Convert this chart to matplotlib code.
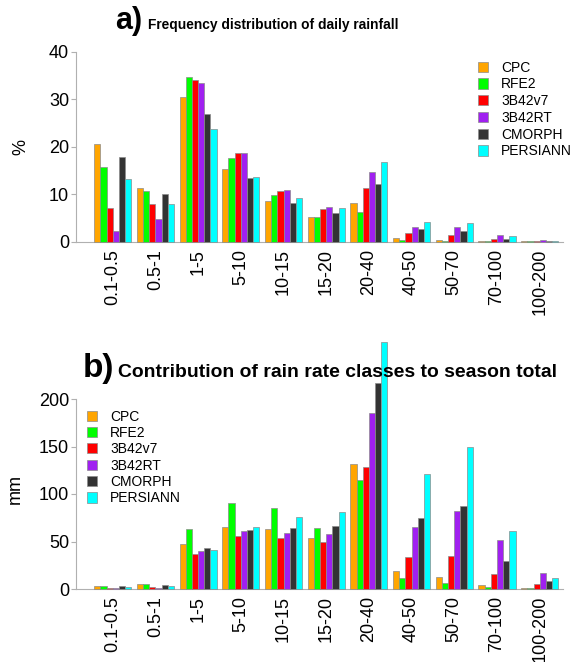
import matplotlib
matplotlib.use("Agg")
import matplotlib.pyplot as plt
import numpy as np
from matplotlib.patches import Patch

plt.rcParams['font.family'] = ['Liberation Sans', 'DejaVu Sans']

classes = ["0.1-0.5", "0.5-1", "1-5", "5-10", "10-15", "15-20", "20-40",
           "40-50", "50-70", "70-100", "100-200"]
products = ["CPC", "RFE2", "3B42v7", "3B42RT", "CMORPH", "PERSIANN"]
colors = ["#FFA500", "#00FF00", "#FF0000", "#A020F0", "#333333", "#00FFFF"]

# a) frequency distribution (%)
freq_cpc      = [20.5, 11.2, 30.5, 15.2, 8.5, 5.2, 8.1, 0.7, 0.35, 0.1, 0.05]
freq_rfe2     = [15.7, 10.6, 34.6, 17.7, 9.8, 5.2, 6.2, 0.35, 0.1, 0.05, 0.05]
freq_3b42v7   = [7.0, 7.9, 34.1, 18.6, 10.7, 6.9, 11.2, 1.9, 1.4, 0.5, 0.15]
freq_3b42rt   = [2.3, 4.8, 33.4, 18.7, 10.8, 7.4, 14.7, 3.2, 3.1, 1.4, 0.3]
freq_cmorph   = [17.8, 10.0, 26.8, 13.5, 8.2, 6.0, 12.1, 2.6, 2.3, 0.6, 0.1]
freq_persiann = [13.1, 7.9, 23.7, 13.6, 9.1, 7.0, 16.8, 4.1, 3.9, 1.1, 0.1]

# b) contribution to season total (mm)
cont_cpc      = [3.2, 4.9, 47.4, 65.3, 63.2, 54.0, 131.6, 18.9, 12.6, 4.2, 1.4]
cont_rfe2     = [2.8, 5.3, 63.5, 90.9, 85.3, 63.9, 114.4, 11.2, 6.7, 2.1, 1.4]
cont_3b42v7   = [1.0, 2.1, 37.2, 55.8, 53.7, 49.5, 128.4, 34.0, 34.4, 15.4, 5.6]
cont_3b42rt   = [1.0, 1.4, 40.0, 61.4, 59.3, 57.5, 185.3, 65.3, 81.8, 51.2, 16.8]
cont_cmorph   = [2.8, 4.2, 42.8, 62.1, 64.2, 66.7, 216.8, 74.7, 87.7, 29.5, 8.4]
cont_persiann = [2.1, 3.5, 40.7, 65.6, 75.8, 80.7, 259.6, 121.0, 149.8, 61.0, 11.2]

freq = [freq_cpc, freq_rfe2, freq_3b42v7, freq_3b42rt, freq_cmorph, freq_persiann]
cont = [cont_cpc, cont_rfe2, cont_3b42v7, cont_3b42rt, cont_cmorph, cont_persiann]

W, H = 573, 662
fig = plt.figure(figsize=(W / 100, H / 100), dpi=100)

def px_axes(left, right, bottom, top):
    return fig.add_axes([left / W, 1 - bottom / H, (right - left) / W, (bottom - top) / H])

gx0, gdx = 112.7, 42.7
left_px, right_px = 76, 563
xlim = ((left_px - gx0) / gdx, (right_px - gx0) / gdx)
bw = 0.1445
x = np.arange(len(classes))

def draw_panel(ax, data, ymax, ytop, yticks, ylabel):
    for k, (vals, c) in enumerate(zip(data, colors)):
        ax.bar(x + (k - 2.5) * bw, vals, width=bw, color=c, edgecolor="#8c8c8c",
               linewidth=0.5, clip_on=False, zorder=3)
    ax.set_xlim(*xlim)
    ax.set_ylim(0, ytop)
    for s in ["top", "right"]:
        ax.spines[s].set_visible(False)
    ax.spines["left"].set_bounds(0, ymax)
    ax.spines["left"].set_color("#b0b0b0")
    ax.spines["bottom"].set_color("#b0b0b0")
    ax.spines["left"].set_linewidth(0.8)
    ax.spines["bottom"].set_linewidth(0.8)
    ax.set_yticks(yticks)
    ax.set_yticklabels([str(t) for t in yticks])
    ax.tick_params(axis="y", length=3.5, width=0.8, color="#b0b0b0", pad=1.5, labelsize=13)
    ax.set_xticks(x)
    ax.set_xticklabels(classes, rotation=90, fontsize=13)
    ax.tick_params(axis="x", length=0, pad=5)
    ax.set_ylabel(ylabel, fontsize=13)
    ax.patch.set_alpha(0)

ax1 = px_axes(left_px, right_px, 241.7, 241.7 - 42.5 * 4.75)
draw_panel(ax1, freq, 40, 42.5, [0, 10, 20, 30, 40], "%")
ax1.yaxis.set_label_coords(-0.095, 0.47)

ax2 = px_axes(left_px, right_px, 589, 589 - 262 * 0.95)
draw_panel(ax2, cont, 200, 262, [0, 50, 100, 150, 200], "mm")
ax2.yaxis.set_label_coords(-0.107, 0.40)

handles = [Patch(facecolor=c, edgecolor="#8c8c8c", linewidth=0.5) for c in colors]
ax1.legend(handles, products, loc="upper left",
           bbox_to_anchor=(478 / W, 1 - 60.5 / H), bbox_transform=fig.transFigure,
           frameon=False, fontsize=10, handlelength=0.75, handleheight=0.75,
           handletextpad=0.9, labelspacing=0.2, borderpad=0, borderaxespad=0)
ax2.legend(handles, products, loc="upper left",
           bbox_to_anchor=(87 / W, 1 - 409.5 / H), bbox_transform=fig.transFigure,
           frameon=False, fontsize=10, handlelength=0.75, handleheight=0.75,
           handletextpad=0.9, labelspacing=0.17, borderpad=0, borderaxespad=0)

# titles
fig.canvas.draw()
renderer = fig.canvas.get_renderer()

def fit_text(xp, yp, s, target_w, size0, **kw):
    t = fig.text(xp / W, 1 - yp / H, s, fontsize=size0, fontweight="bold",
                 va="baseline", ha="left", **kw)
    w = t.get_window_extent(renderer).width
    t.set_fontsize(size0 * target_w / w)
    return t

fig.text(115 / W, 1 - 28.5 / H, "a)", fontsize=22, fontweight="bold", va="baseline")
fit_text(148, 28.5, "Frequency distribution of daily rainfall", 249, 12)
fig.text(82.7 / W, 1 - 377 / H, "b)", fontsize=24, fontweight="bold", va="baseline")
fit_text(118.3, 377, "Contribution of rain rate classes to season total", 439, 13)

fig.savefig("out.png", dpi=100)
